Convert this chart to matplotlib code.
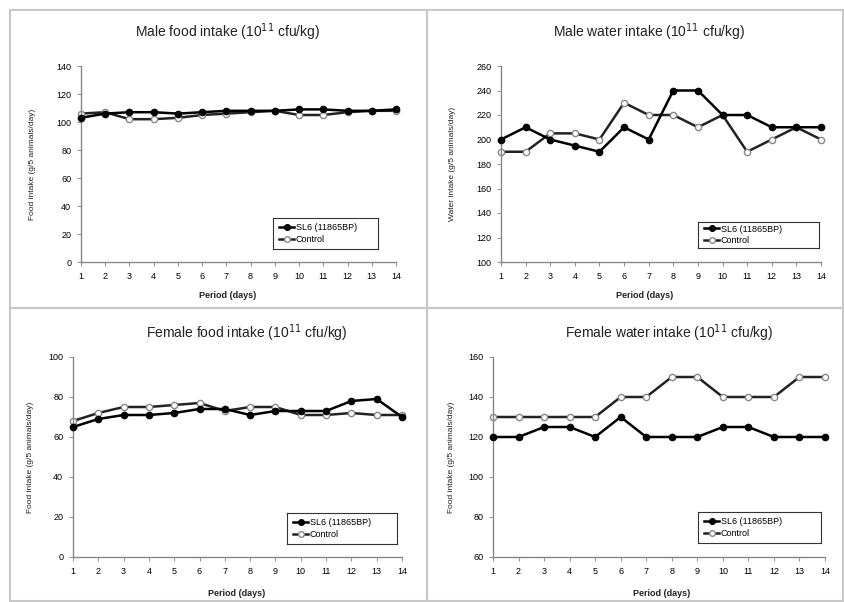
import numpy as np
import matplotlib
matplotlib.use("Agg")
import matplotlib.pyplot as plt
from matplotlib.patches import Rectangle

plt.rcParams['font.family'] = ['Liberation Sans', 'DejaVu Sans']

days = list(range(1, 15))

male_food_sl6 = [103, 106, 107, 107, 106, 107, 108, 108, 108, 109, 109, 108, 108, 109]
male_food_ctrl = [106, 107, 102, 102, 103, 105, 106, 107, 108, 105, 105, 107, 108, 108]

male_water_sl6 = [200, 210, 200, 195, 190, 210, 200, 240, 240, 220, 220, 210, 210, 210]
male_water_ctrl = [190, 190, 205, 205, 200, 230, 220, 220, 210, 220, 190, 200, 210, 200]

female_food_sl6 = [65, 69, 71, 71, 72, 74, 74, 71, 73, 73, 73, 78, 79, 70]
female_food_ctrl = [68, 72, 75, 75, 76, 77, 73, 75, 75, 71, 71, 72, 71, 71]

female_water_sl6 = [120, 120, 125, 125, 120, 130, 120, 120, 120, 125, 125, 120, 120, 120]
female_water_ctrl = [130, 130, 130, 130, 130, 140, 140, 150, 150, 140, 140, 140, 150, 150]

titles = ['Male food intake (10$^{11}$ cfu/kg)',
          'Male water intake (10$^{11}$ cfu/kg)',
          'Female food intake (10$^{11}$ cfu/kg)',
          'Female water intake (10$^{11}$ cfu/kg)']
ylabels = ['Food intake (g/5 animals/day)',
           'Water intake (g/5 animals/day)',
           'Food intake (g/5 animals/day)',
           'Food intake (g/5 animals/day)']
series = [(male_food_sl6, male_food_ctrl),
          (male_water_sl6, male_water_ctrl),
          (female_food_sl6, female_food_ctrl),
          (female_water_sl6, female_water_ctrl)]
ylims = [(0, 140), (100, 260), (0, 100), (60, 160)]
ysteps = [20, 20, 20, 20]
legend_labels = ['SL6 (11865BP)', 'Control']

W, H = 844, 602
fig = plt.figure(figsize=(W / 100, H / 100), dpi=100)

# pixel boxes: (left, right, top, bottom) of plot area
boxes = [(81, 396, 66, 262), (501, 821, 66, 262),
         (73, 402, 357, 557), (493, 825, 357, 557)]
# panel frames: (left, top, right, bottom)
panels = [(10, 10, 427, 308), (427, 10, 843, 308),
          (10, 308, 427, 601), (427, 308, 843, 601)]
title_pos = [(228, 32), (649, 32), (247, 333), (669, 333)]
xlabel_pos = [(228, 295), (645, 295), (237, 593), (662, 593)]
ylabel_pos = [(33, 164), (452, 164), (30, 457), (451, 457)]
legend_box = [(273, 218, 378, 249), (698, 222, 819, 248),
              (287, 513, 397, 544), (698, 512, 821, 543)]

for (l, t, r, b) in panels:
    fig.add_artist(Rectangle((l / W, 1 - b / H), (r - l) / W, (b - t) / H,
                             transform=fig.transFigure, fill=False,
                             edgecolor='#c8c8c8', linewidth=1.5))

for i in range(4):
    l, r, t, b = boxes[i]
    ax = fig.add_axes([l / W, 1 - b / H, (r - l) / W, (b - t) / H])
    sl6, ctrl = series[i]
    h1, = ax.plot(days, sl6, color='black', linewidth=1.8, marker='o',
                  markersize=4.5, markerfacecolor='black', markeredgecolor='black',
                  zorder=3, clip_on=False)
    h2, = ax.plot(days, ctrl, color='#222222', linewidth=1.8, marker='o',
                  markersize=4.5, markerfacecolor='white', markeredgecolor='#888888',
                  zorder=2, clip_on=False)
    ax.set_xlim(1, 14)
    ax.set_ylim(*ylims[i])
    ax.set_xticks(days)
    ax.set_yticks(np.arange(ylims[i][0], ylims[i][1] + 1, ysteps[i]))
    ax.spines['top'].set_visible(False)
    ax.spines['right'].set_visible(False)
    for s in ['left', 'bottom']:
        ax.spines[s].set_color('#888888')
        ax.spines[s].set_linewidth(1.0)
    ax.tick_params(axis='both', labelsize=6.5, length=3, width=0.8,
                   color='#999999', direction='out', pad=4)
    ax.patch.set_alpha(0)

    fig.text(title_pos[i][0] / W, 1 - title_pos[i][1] / H, titles[i],
             ha='center', va='center', fontsize=10, color='#222222')
    fig.text(xlabel_pos[i][0] / W, 1 - xlabel_pos[i][1] / H, 'Period (days)',
             ha='center', va='center', fontsize=6.5, fontweight='bold', color='#222222')
    fig.text(ylabel_pos[i][0] / W, 1 - ylabel_pos[i][1] / H, ylabels[i],
             ha='center', va='center', fontsize=6, rotation=90, color='#222222')

    lx0, ly0, lx1, ly1 = legend_box[i]
    leg_ax = fig.add_axes([lx0 / W, 1 - ly1 / H, (lx1 - lx0) / W, (ly1 - ly0) / H])
    leg_ax.set_xticks([])
    leg_ax.set_yticks([])
    for s in leg_ax.spines.values():
        s.set_color('#333333')
        s.set_linewidth(0.8)
    leg = leg_ax.legend([h1, h2], legend_labels, loc='center left',
                        bbox_to_anchor=(0.0, 0.5), frameon=False, fontsize=6.5,
                        handlelength=1.6, handletextpad=0.2, labelspacing=0.3,
                        borderpad=0.2, markerscale=0.9)

fig.savefig('out.png', dpi=100)
